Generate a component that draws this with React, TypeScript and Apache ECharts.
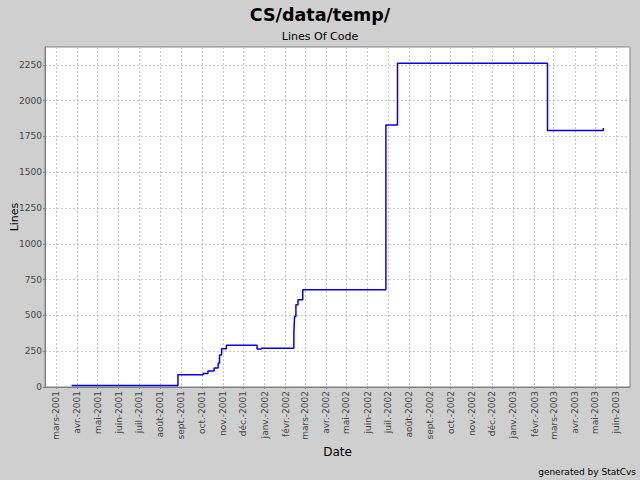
import React, { useEffect, useRef } from "react";
import * as echarts from "echarts";

// Commit dates and lines-of-code values
const dates = [
  "2001-03-24", "2001-08-27", "2001-10-03", "2001-10-10", "2001-10-19",
  "2001-10-25", "2001-10-27", "2001-10-30", "2001-11-06", "2001-12-21",
  "2001-12-27", "2002-02-13", "2002-02-14", "2002-02-16", "2002-02-19",
  "2002-02-26", "2002-06-28", "2002-07-15", "2003-02-20", "2003-05-13",
];
const lines = [
  10, 86, 94, 112, 132, 166, 223, 267, 292, 265,
  270, 373, 493, 574, 609, 680, 1831, 2262, 1792, 1810,
];

// Month tick positions and French month abbreviations for the labels
const monthTicks = [
  "2001-03-01", "2001-04-01", "2001-05-01", "2001-06-01", "2001-07-01",
  "2001-08-01", "2001-09-01", "2001-10-01", "2001-11-01", "2001-12-01",
  "2002-01-01", "2002-02-01", "2002-03-01", "2002-04-01", "2002-05-01",
  "2002-06-01", "2002-07-01", "2002-08-01", "2002-09-01", "2002-10-01",
  "2002-11-01", "2002-12-01", "2003-01-01", "2003-02-01", "2003-03-01",
  "2003-04-01", "2003-05-01", "2003-06-01",
];
const monthNames = [
  "janv.", "févr.", "mars", "avr.", "mai", "juin",
  "juil.", "août", "sept.", "oct.", "nov.", "déc.",
];

const xMin = "2001-02-13";
const xMax = "2003-06-21";
const yMax = 2375;

function toTime(s: string): number {
  const [y, m, d] = s.split("-").map(Number);
  return new Date(y, m - 1, d).getTime();
}

export default function App() {
  const ref = useRef<HTMLDivElement>(null);

  useEffect(() => {
    if (!ref.current) return;
    const chart = echarts.init(ref.current, null, { renderer: "svg" });
    const font = "DejaVu Sans";
    const tickTimes = monthTicks.map(toTime);

    chart.setOption({
      animation: false,
      backgroundColor: "#cfcfcf",
      title: [
        {
          text: "CS/data/temp/",
          left: "center",
          top: 6,
          padding: 0,
          textStyle: { fontFamily: font, fontSize: 17.5, fontWeight: "bold", color: "#000" },
        },
        {
          text: "Lines Of Code",
          left: "center",
          top: 31,
          padding: 0,
          textStyle: { fontFamily: font, fontSize: 11, fontWeight: "normal", color: "#000" },
        },
        {
          text: "generated by StatCvs",
          right: 4,
          top: 467,
          padding: 0,
          textStyle: { fontFamily: font, fontSize: 9, fontWeight: "normal", color: "#000" },
        },
      ],
      grid: {
        left: 45,
        right: 10,
        top: 47,
        bottom: 93,
        outerBoundsMode: "none",
        containLabel: false,
        show: true,
        backgroundColor: "#ffffff",
        borderColor: "#808080",
        borderWidth: 1,
      },
      xAxis: {
        type: "value",
        min: toTime(xMin),
        max: toTime(xMax),
        name: "Date",
        nameLocation: "middle",
        nameGap: 59,
        nameMoveOverlap: false,
        nameTextStyle: { fontFamily: font, fontSize: 12, color: "#000" },
        axisLine: { show: true, lineStyle: { color: "#808080" } },
        axisTick: {
          show: true,
          length: 2,
          customValues: tickTimes,
          lineStyle: { color: "#808080" },
        },
        axisLabel: {
          customValues: tickTimes,
          rotate: 90,
          margin: 4,
          fontFamily: font,
          fontSize: 9,
          color: "#444",
          formatter: (v: number) => {
            const d = new Date(v);
            return monthNames[d.getMonth()] + "-" + d.getFullYear();
          },
        },
        splitLine: {
          show: true,
          lineStyle: { color: "#c4c4c4", type: [2, 2], width: 1 },
        },
      },
      yAxis: {
        type: "value",
        min: 0,
        max: yMax,
        interval: 250,
        name: "Lines",
        nameLocation: "middle",
        nameGap: 25,
        nameMoveOverlap: false,
        nameTextStyle: { fontFamily: font, fontSize: 11, color: "#000" },
        axisLine: { show: true, lineStyle: { color: "#808080" } },
        axisTick: { show: true, length: 2, lineStyle: { color: "#808080" } },
        axisLabel: {
          margin: 3,
          fontFamily: font,
          fontSize: 9,
          color: "#444",
          showMaxLabel: false,
          formatter: (v: number) => String(v),
        },
        splitLine: {
          show: true,
          lineStyle: { color: "#c4c4c4", type: [2, 2], width: 1 },
        },
      },
      series: [
        {
          type: "line",
          step: "end",
          showSymbol: false,
          symbol: "none",
          data: dates.map((d, i) => [toTime(d), lines[i]]),
          lineStyle: { color: "#0000ff", width: 1.5 },
          itemStyle: { color: "#0000ff" },
        },
      ],
    });

    return () => chart.dispose();
  }, []);

  return (
    <div
      ref={ref}
      style={{ position: "fixed", left: 0, top: 0, width: 640, height: 480 }}
    />
  );
}
